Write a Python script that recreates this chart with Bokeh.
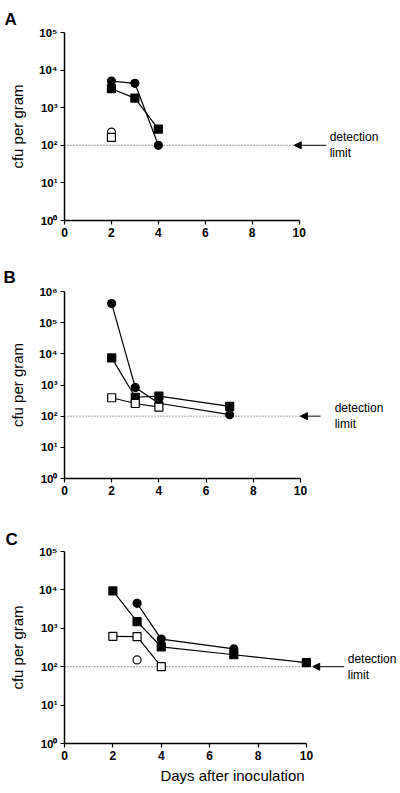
from bokeh.plotting import figure
from bokeh.layouts import column
from bokeh.models import Range1d, FixedTicker, Arrow, NormalHead
from bokeh.core.properties import value
from bokeh.embed import file_html
from bokeh.resources import INLINE

# ---------------- data ----------------
days_ticks = [0, 2, 4, 6, 8, 10]
cfu_ticks = [1, 10, 100, 1000, 10000, 100000, 1000000]
cfu_tick_labels = ["10⁰", "10¹", "10²", "10³", "10⁴", "10⁵", "10⁶"]
detection_limit = 100
limit_text = "detection\nlimit"
y_title = "cfu per gram"
x_title = "Days after inoculation"
panel_labels = ["A", "B", "C"]

# Panel A
a_circle_x = [2, 3, 4]
a_circle_y = [5100, 4450, 100]
a_square_x = [2, 3, 4]
a_square_y = [3200, 1800, 270]
a_open_circle_x = [2]
a_open_circle_y = [225]
a_open_square_x = [2]
a_open_square_y = [163]

# Panel B
b_circle_x = [2, 3, 4, 7]
b_circle_y = [410000, 830, 260, 112]
b_square_x = [2, 3, 4, 7]
b_square_y = [7400, 405, 440, 205]
b_open_square_x = [2, 3, 4]
b_open_square_y = [390, 255, 195]

# Panel C
c_square_x = [2, 3, 4, 7, 10]
c_square_y = [9400, 1490, 330, 205, 127]
c_circle_x = [3, 4, 7]
c_circle_y = [4470, 525, 290]
c_open_square_x = [2, 3, 4]
c_open_square_y = [615, 605, 100]
c_open_circle_x = [3]
c_open_circle_y = [150]

FONT = "Liberation Sans"


def make_panel(letter, height, bl, bt, bb, x_end, y_top, series,
               tip, arrow_start, text_x, title_standoff, show_xlabel=False):
    p = figure(width=400, height=height,
               x_range=Range1d(0, x_end), y_range=Range1d(1, y_top),
               y_axis_type="log", output_backend="svg", toolbar_location=None,
               min_border_left=bl, min_border_right=0,
               min_border_top=bt, min_border_bottom=bb)
    p.outline_line_color = None
    p.grid.visible = False
    p.background_fill_color = "white"

    p.title.text = letter
    p.title.align = "left"
    p.title.offset = 3 - bl
    p.title.standoff = title_standoff
    p.title.text_font = FONT
    p.title.text_font_size = "17px"
    p.title.text_font_style = "bold"
    p.title.text_color = "black"

    xa = p.xaxis[0]
    xa.bounds = (0, 10)
    xa.ticker = FixedTicker(ticks=days_ticks)
    ya = p.yaxis[0]
    yt = [t for t in cfu_ticks if t <= y_top]
    ya.ticker = FixedTicker(ticks=yt)
    ya.major_label_overrides = {t: cfu_tick_labels[i] for i, t in enumerate(cfu_ticks) if t <= y_top}
    for ax in (xa, ya):
        ax.axis_line_width = 1.5
        ax.axis_line_color = "black"
        ax.major_tick_line_color = "black"
        ax.major_tick_line_width = 1.2
        ax.major_tick_in = 0
        ax.major_tick_out = 4
        ax.minor_tick_line_color = None
        ax.major_label_text_font = FONT
        ax.major_label_text_font_style = "bold"
        ax.major_label_text_color = "black"
        ax.axis_label_text_font = FONT
        ax.axis_label_text_font_style = "normal"
        ax.axis_label_text_font_size = "15px"
        ax.axis_label_text_color = "black"
    xa.major_label_text_font_size = "12px"
    ya.major_label_text_font_size = "11.5px"
    xa.major_label_standoff = 3
    ya.major_label_standoff = 3
    ya.axis_label = y_title
    ya.axis_label_standoff = 10
    if show_xlabel:
        xa.axis_label = x_title
        xa.axis_label_standoff = 4

    # detection limit dotted line, arrow and note
    p.line([0, tip], [detection_limit, detection_limit], line_color="#444444",
           line_width=1, line_dash="1 2")
    p.add_layout(Arrow(end=NormalHead(size=7, fill_color="black", line_color="black", line_width=1),
                       x_start=arrow_start, y_start=detection_limit,
                       x_end=tip, y_end=detection_limit,
                       line_color="black", line_width=1))
    p.text(x=[text_x], y=[detection_limit], text=[limit_text],
           text_font=value(FONT), text_font_size="12px", text_color="black",
           text_baseline="middle", text_align="left", text_line_height=1.15)

    for xs, ys, marker, filled in series:
        if len(xs) > 1:
            p.line(xs, ys, line_color="black", line_width=1.2)
    for xs, ys, marker, filled in series:
        p.scatter(xs, ys, marker=marker, size=8,
                  fill_color="black" if filled else "white",
                  line_color="black", line_width=1.2)
    return p


pa = make_panel(panel_labels[0], 258, 63, 32, 38, 14.32, 1e5,
                [(a_circle_x, a_circle_y, "circle", True),
                 (a_square_x, a_square_y, "square", True),
                 (a_open_circle_x, a_open_circle_y, "circle", False),
                 (a_open_square_x, a_open_square_y, "square", False)],
                tip=9.79, arrow_start=11.16, text_x=11.30, title_standoff=7)

pb = make_panel(panel_labels[1], 260, 64, 33, 40, 14.24, 1e6,
                [(b_circle_x, b_circle_y, "circle", True),
                 (b_square_x, b_square_y, "square", True),
                 (b_open_square_x, b_open_square_y, "square", False)],
                tip=10.0, arrow_start=10.85, text_x=11.45, title_standoff=10)

pc = make_panel(panel_labels[2], 275, 62, 33, 50, 13.89, 1e5,
                [(c_square_x, c_square_y, "square", True),
                 (c_circle_x, c_circle_y, "circle", True),
                 (c_open_square_x, c_open_square_y, "square", False),
                 (c_open_circle_x, c_open_circle_y, "circle", False)],
                tip=10.26, arrow_start=11.56, text_x=11.71, title_standoff=6,
                show_xlabel=True)

layout = column(pa, pb, pc, spacing=0)
open("out.html", "w").write(file_html(layout, INLINE))
